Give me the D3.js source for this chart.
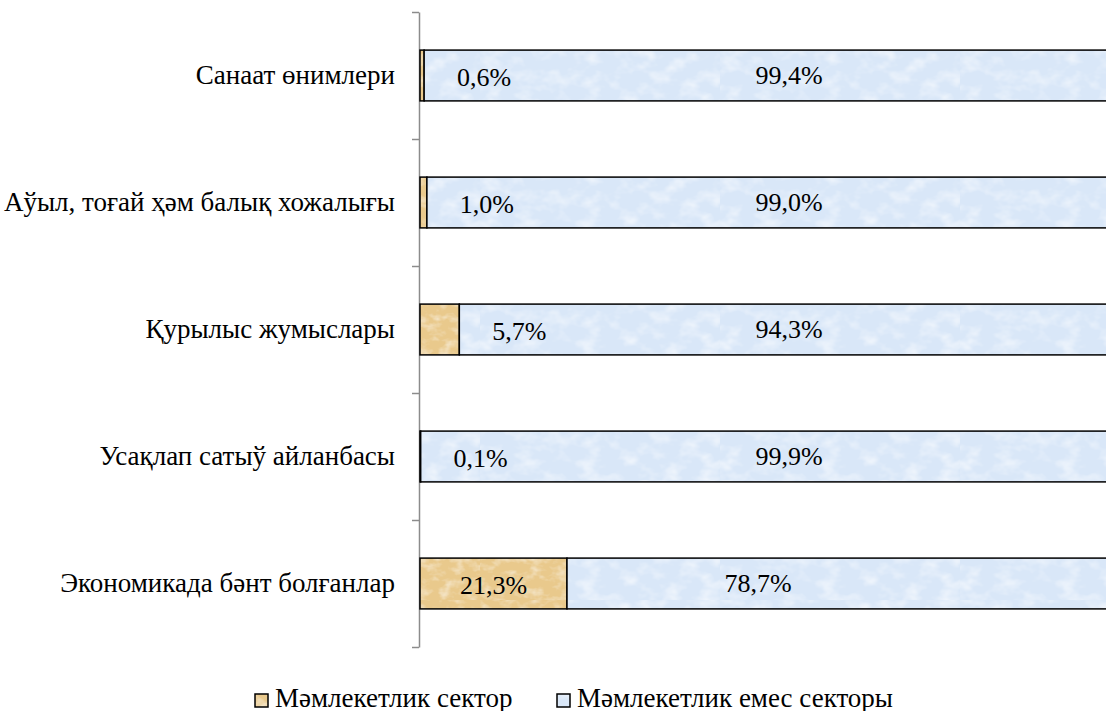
<!DOCTYPE html>
<html>
<head>
<meta charset="utf-8">
<script src="https://cdn.jsdelivr.net/npm/d3@7"></script>
</head>
<body style="margin:0">
<script>
var categories = ['Санаат өнимлери', 'Аўыл, тоғай ҳәм балық хожалығы', 'Қурылыс жумыслары',
                  'Усақлап сатыў айланбасы', 'Экономикада бәнт болғанлар'],
    stateShare = [0.6, 1.0, 5.7, 0.1, 21.3],
    privateShare = [99.4, 99.0, 94.3, 99.9, 78.7],
    seriesNames = ['Мәмлекетлик сектор', 'Мәмлекетлик емес секторы'];

var width = 1106, height = 711,
    plotLeft = 420, plotRight = 1110, plotTop = 12, plotBottom = 647,
    serifFont = '"Liberation Serif", Tinos, serif';

var fmt = function(v) { return v.toFixed(1).replace('.', ',') + '%'; };

var rows = categories.map(function(c, i) {
  return { cat: c, a: stateShare[i], b: privateShare[i] };
});

var svg = d3.select('body').append('svg')
    .attr('width', width)
    .attr('height', height);

// textures roughly like the Office fills
var defs = svg.append('defs');

function paper(id, base, seed, freq, strength) {
  var f = defs.append('filter').attr('id', id + 'f')
      .attr('x', 0).attr('y', 0).attr('width', '100%').attr('height', '100%');
  f.append('feTurbulence').attr('type', 'fractalNoise')
      .attr('baseFrequency', freq).attr('numOctaves', 3).attr('seed', seed);
  f.append('feColorMatrix').attr('type', 'matrix')
      .attr('values', '0 0 0 0 1  0 0 0 0 1  0 0 0 0 1  ' + strength + ' 0 0 0 ' + (-strength * 0.45));
  var p = defs.append('pattern').attr('id', id)
      .attr('patternUnits', 'userSpaceOnUse')
      .attr('width', 240).attr('height', 120);
  p.append('rect').attr('width', 240).attr('height', 120).attr('fill', base);
  p.append('rect').attr('width', 240).attr('height', 120).attr('filter', 'url(#' + id + 'f)');
}
paper('tanFill', '#e9c98c', 3, '0.08 0.12', 1.2);
paper('blueFill', '#d9e7f8', 7, '0.05 0.07', 1.4);

var fills = ['url(#tanFill)', 'url(#blueFill)'];

var xScale = d3.scaleLinear().domain([0, 100]).range([plotLeft, plotRight]);

var yScale = d3.scaleBand()
    .domain(categories)
    .range([plotTop, plotBottom])
    .paddingInner(0.6)
    .paddingOuter(0.3);

// axis with ticks between categories
var tickScale = d3.scaleLinear().domain([0, categories.length]).range([plotTop, plotBottom]);
var yAxis = svg.append('g')
    .attr('transform', 'translate(' + (plotLeft - 1) + ',0)')
    .call(d3.axisLeft(tickScale)
      .tickValues(d3.range(categories.length + 1))
      .tickFormat('')
      .tickSize(7)
      .tickSizeOuter(0));
yAxis.selectAll('path, line').attr('stroke', '#8c8c8c').attr('stroke-width', 1.5);

// category labels
svg.append('g').selectAll('text')
  .data(rows).enter().append('text')
    .attr('x', plotLeft - 25)
    .attr('y', function(d) { return yScale(d.cat) + yScale.bandwidth() / 2; })
    .attr('dy', '0.33em')
    .attr('text-anchor', 'end')
    .style('font-family', serifFont)
    .attr('font-size', 27)
    .attr('fill', '#000')
    .text(function(d) { return d.cat; });

// bars
var bars = svg.append('g');
bars.selectAll('rect.a')
  .data(rows).enter().append('rect')
    .attr('class', 'a')
    .attr('x', xScale(0))
    .attr('y', function(d) { return yScale(d.cat); })
    .attr('width', function(d) { return xScale(d.a) - xScale(0); })
    .attr('height', yScale.bandwidth())
    .attr('fill', fills[0])
    .attr('stroke', '#000')
    .attr('stroke-width', 1.5);

bars.selectAll('rect.b')
  .data(rows).enter().append('rect')
    .attr('class', 'b')
    .attr('x', function(d) { return xScale(d.a); })
    .attr('y', function(d) { return yScale(d.cat); })
    .attr('width', function(d) { return xScale(d.a + d.b) - xScale(d.a); })
    .attr('height', yScale.bandwidth())
    .attr('fill', fills[1])
    .attr('stroke', '#000')
    .attr('stroke-width', 1.5);

// data labels: small segments get their label just right of the bar
var labels = svg.append('g');
labels.selectAll('text.a')
  .data(rows).enter().append('text')
    .attr('x', function(d) {
      var w = xScale(d.a) - xScale(0);
      return w > 90 ? xScale(d.a / 2) : xScale(d.a) + 60;
    })
    .attr('y', function(d) { return yScale(d.cat) + yScale.bandwidth() / 2; })
    .attr('dy', '0.42em')
    .attr('text-anchor', 'middle')
    .style('font-family', serifFont)
    .attr('font-size', 26)
    .text(function(d) { return fmt(d.a); });

labels.selectAll('text.b')
  .data(rows).enter().append('text')
    .attr('x', function(d) { return d.a > 10 ? xScale(49) : xScale(53.5); })
    .attr('y', function(d) { return yScale(d.cat) + yScale.bandwidth() / 2; })
    .attr('dy', '0.33em')
    .attr('text-anchor', 'middle')
    .style('font-family', serifFont)
    .attr('font-size', 26)
    .text(function(d) { return fmt(d.b); });

// legend
var legendX = [255, 557];
seriesNames.forEach(function(name, i) {
  var g = svg.append('g').attr('transform', 'translate(' + legendX[i] + ',694)');
  g.append('rect').attr('width', 13).attr('height', 13)
    .attr('fill', fills[i]).attr('stroke', '#000').attr('stroke-width', 1.5);
  g.append('text').attr('x', 20).attr('y', 13)
    .style('font-family', serifFont)
    .attr('font-size', 27)
    .text(name);
});
</script>
</body>
</html>
